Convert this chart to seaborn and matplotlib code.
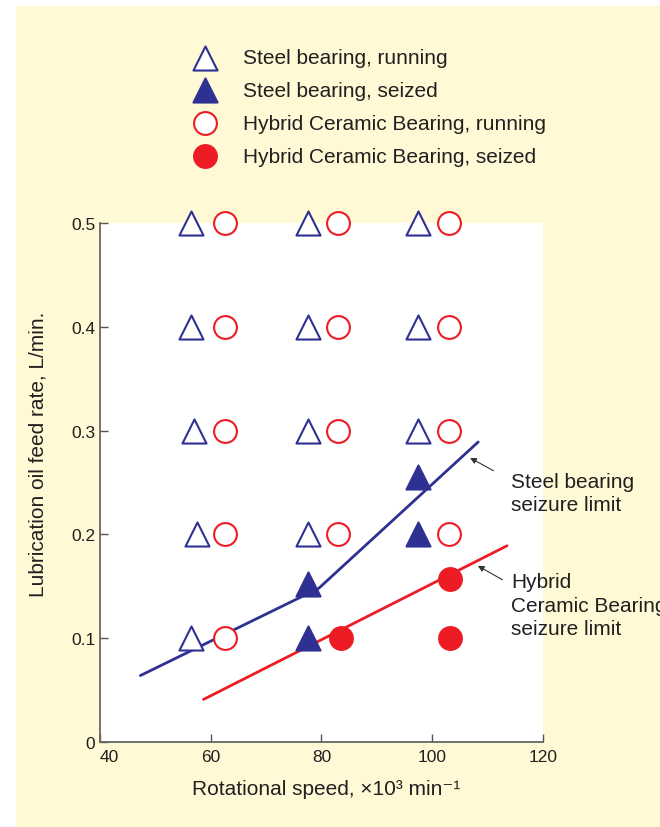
import seaborn as sns
import matplotlib.pyplot as plt
import pandas as pd
from matplotlib.patches import Rectangle

# steel bearing, running (open triangles)
steel_run_x = [56.5, 56.5, 57.0, 57.5, 56.5, 77.5, 77.5, 77.5, 77.5, 97.5, 97.5, 97.5]
steel_run_y = [0.5, 0.4, 0.3, 0.2, 0.1, 0.5, 0.4, 0.3, 0.2, 0.5, 0.4, 0.3]
# steel bearing, seized (filled triangles)
steel_seize_x = [77.5, 77.5, 97.5, 97.5]
steel_seize_y = [0.152, 0.1, 0.255, 0.2]
# hybrid ceramic, running (open circles)
hyb_run_x = [62.5, 62.5, 62.5, 62.5, 62.5, 83.0, 83.0, 83.0, 83.0, 103.0, 103.0, 103.0, 103.0]
hyb_run_y = [0.5, 0.4, 0.3, 0.2, 0.1, 0.5, 0.4, 0.3, 0.2, 0.5, 0.4, 0.3, 0.2]
# hybrid ceramic, seized (filled circles)
hyb_seize_x = [83.5, 103.2, 103.2]
hyb_seize_y = [0.1, 0.157, 0.1]

# seizure limit lines
steel_lim_x = [47.3, 79.5, 108.3]
steel_lim_y = [0.064, 0.148, 0.289]
hyb_lim_x = [58.7, 113.5]
hyb_lim_y = [0.041, 0.189]

navy = "#2E3192"
red = "#ED1C24"
cream = "#FFF9D6"
txt = "#231F20"

sns.set_style("ticks")
plt.rcParams["font.family"] = ["Liberation Sans", "DejaVu Sans"]
plt.rcParams["text.color"] = txt

fig = plt.figure(figsize=(6.6, 8.28), dpi=100, facecolor="white")
fig.add_artist(Rectangle((16 / 660, 0), 1, 821 / 828, transform=fig.transFigure,
                         facecolor=cream, edgecolor="none", zorder=-10))
ax = fig.add_axes([0.1515, 0.1027, 0.6712, 0.6268])
ax.set_facecolor("white")

sns.lineplot(x=steel_lim_x, y=steel_lim_y, color=navy, lw=2, ax=ax, zorder=2)
sns.lineplot(x=hyb_lim_x, y=hyb_lim_y, color=red, lw=2, ax=ax, zorder=2)

tri_s = 300
circ_s = 270
sns.scatterplot(x=steel_run_x, y=steel_run_y, marker="^", s=tri_s, facecolor="white",
                edgecolor=navy, linewidth=1.5, ax=ax, clip_on=False, zorder=3,
                label="Steel bearing, running")
sns.scatterplot(x=steel_seize_x, y=steel_seize_y, marker="^", s=tri_s, color=navy,
                edgecolor=navy, linewidth=1.5, ax=ax, clip_on=False, zorder=3,
                label="Steel bearing, seized")
sns.scatterplot(x=hyb_run_x, y=hyb_run_y, marker="o", s=circ_s, facecolor="white",
                edgecolor=red, linewidth=1.5, ax=ax, clip_on=False, zorder=3,
                label="Hybrid Ceramic Bearing, running")
sns.scatterplot(x=hyb_seize_x, y=hyb_seize_y, marker="o", s=circ_s, color=red,
                edgecolor=red, linewidth=1.5, ax=ax, clip_on=False, zorder=3,
                label="Hybrid Ceramic Bearing, seized")

ax.set_xlim(40, 120)
ax.set_ylim(0, 0.5)
ax.set_xticks([40, 60, 80, 100, 120])
ax.set_yticks([0, 0.1, 0.2, 0.3, 0.4, 0.5])
ax.set_yticklabels(["0", "0.1", "0.2", "0.3", "0.4", "0.5"])
ax.tick_params(direction="in", length=6, width=1, color="#555555",
               labelsize=12.5, labelcolor=txt)
ax.tick_params(axis="y", pad=3.5)
ax.tick_params(axis="x", pad=5)
ax.get_xticklabels()[0].set_horizontalalignment("left")
sns.despine(ax=ax)
for sp in ["left", "bottom"]:
    ax.spines[sp].set_color("#666666")
    ax.spines[sp].set_linewidth(1.3)

ax.set_xlabel("Rotational speed, \u00d710\u00b3 min\u207b\u00b9", fontsize=15, color=txt)
ax.xaxis.set_label_coords(0.51, -0.072)
ax.set_ylabel("Lubrication oil feed rate, L/min.", fontsize=15, color=txt)
ax.yaxis.set_label_coords(-0.118, 0.557)

arw = dict(arrowstyle="-|>", color="#333333", lw=0.8, mutation_scale=9)
ax.annotate("", xy=(106.4, 0.275), xytext=(111.5, 0.26), arrowprops=arw,
            annotation_clip=False)
ax.text(114.2, 0.240, "Steel bearing\nseizure limit", fontsize=15,
        ha="left", va="center", linespacing=1.25, clip_on=False)
ax.annotate("", xy=(107.8, 0.171), xytext=(113.1, 0.155), arrowprops=arw,
            annotation_clip=False)
ax.text(114.2, 0.1317, "Hybrid\nCeramic Bearing\nseizure limit", fontsize=15,
        ha="left", va="center", linespacing=1.3, clip_on=False)

ax.legend(loc="upper left", bbox_to_anchor=(184 / 660, 1 - 49 / 828),
          bbox_transform=fig.transFigure, frameon=False, fontsize=15,
          handlelength=2, handletextpad=0.85, labelspacing=0.67, borderpad=0,
          borderaxespad=0)

fig.savefig("out.png", dpi=100, facecolor=fig.get_facecolor())
